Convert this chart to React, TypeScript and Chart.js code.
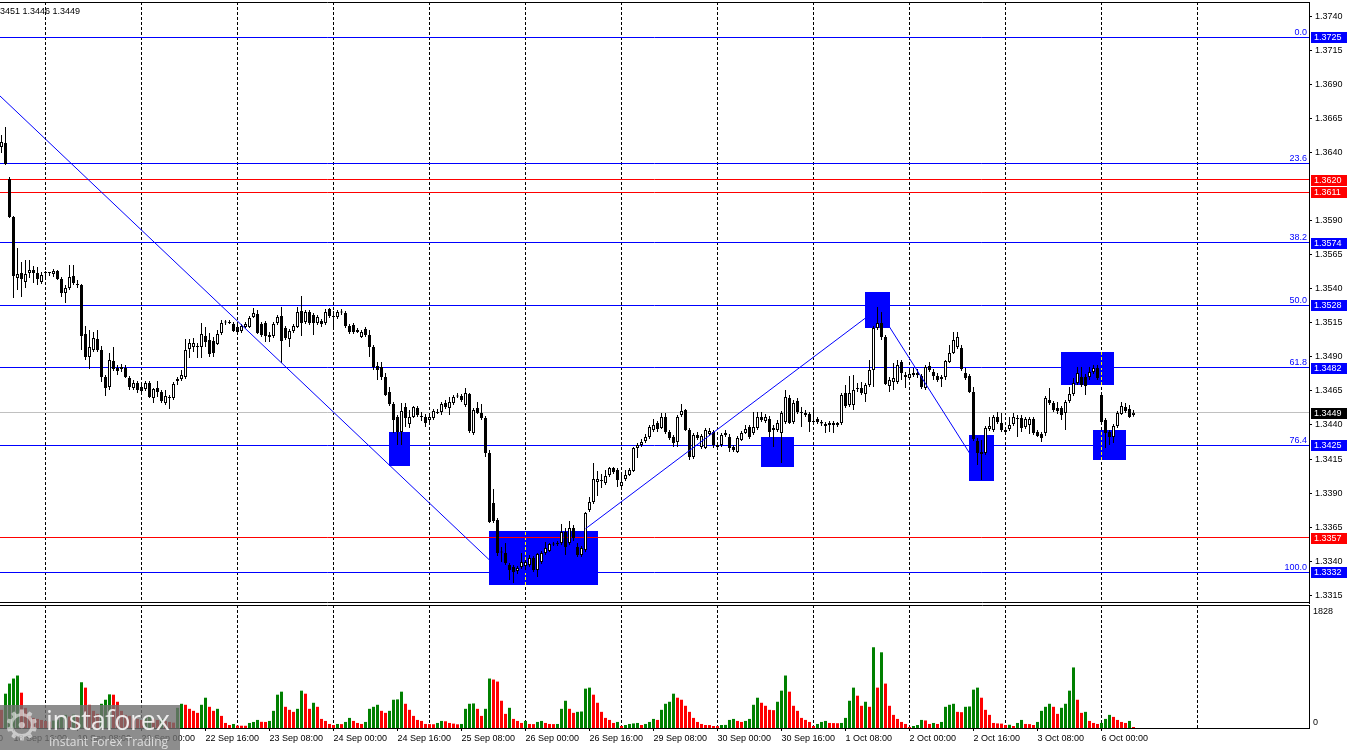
import React, { useEffect, useRef } from "react";
import { Chart, registerables } from "chart.js";
Chart.register(...registerables);

// ---------------- data (H1 bars, index 0 .. 283) ----------------
const open = [
1.36442,1.36472,1.36207,1.35928,1.35480,1.35517,1.35450,1.35517,1.35539,1.35517,
1.35450,1.35517,1.35517,1.35509,1.35531,1.35472,1.35370,1.35406,1.35495,1.35436,
1.35428,1.35068,1.34899,1.34951,1.35032,1.34951,1.34753,1.34679,1.34870,1.34819,
1.34811,1.34819,1.34745,1.34672,1.34708,1.34679,1.34664,1.34708,1.34598,1.34672,
1.34642,1.34562,1.34606,1.34598,1.34738,1.34738,1.34753,1.34958,1.34973,1.34980,
1.34973,1.35054,1.35024,1.35017,1.34995,1.35076,1.35153,1.35157,1.35142,1.35120,
1.35091,1.35120,1.35120,1.35193,1.35215,1.35142,1.35149,1.35061,1.35054,1.35149,
1.35201,1.35113,1.35032,1.35091,1.35120,1.35237,1.35157,1.35230,1.35208,1.35149,
1.35164,1.35149,1.35252,1.35197,1.35193,1.35226,1.35223,1.35127,1.35135,1.35098,
1.35046,1.35105,1.35061,1.34973,1.34833,1.34826,1.34753,1.34642,1.34554,1.34459,
1.34349,1.34532,1.34407,1.34459,1.34525,1.34462,1.34459,1.34437,1.34451,1.34495,
1.34495,1.34562,1.34525,1.34562,1.34613,1.34613,1.34547,1.34628,1.34341,1.34525,
1.34488,1.34451,1.34194,1.33827,1.33702,1.33467,1.33460,1.33372,1.33357,1.33327,
1.33357,1.33364,1.33372,1.33423,1.33335,1.33394,1.33460,1.33474,1.33526,1.33526,
1.33533,1.33614,1.33533,1.33643,1.33504,1.33445,1.33482,1.33776,1.33834,1.33981,
1.33996,1.33974,1.34033,1.34084,1.34069,1.33952,1.34003,1.34033,1.34062,1.34231,
1.34253,1.34282,1.34312,1.34363,1.34415,1.34378,1.34459,1.34349,1.34312,1.34275,
1.34473,1.34510,1.34363,1.34165,1.34327,1.34238,1.34231,1.34334,1.34349,1.34253,
1.34253,1.34327,1.34312,1.34238,1.34202,1.34290,1.34341,1.34385,1.34341,1.34378,
1.34459,1.34429,1.34444,1.34378,1.34363,1.34341,1.34422,1.34598,1.34422,1.34576,
1.34492,1.34488,1.34481,1.34426,1.34444,1.34422,1.34407,1.34400,1.34415,1.34415,
1.34415,1.34635,1.34547,1.34547,1.34664,1.34672,1.34628,1.34694,1.34804,1.35113,
1.35149,1.35046,1.34686,1.34716,1.34716,1.34863,1.34753,1.34745,1.34767,1.34782,
1.34760,1.34672,1.34833,1.34789,1.34760,1.34753,1.34753,1.34863,1.34929,1.34973,
1.34966,1.34782,1.34760,1.34642,1.34282,1.34202,1.34194,1.34371,1.34363,1.34459,
1.34415,1.34363,1.34371,1.34407,1.34451,1.34451,1.34385,1.34400,1.34444,1.34349,
1.34334,1.34341,1.34584,1.34562,1.34525,1.34525,1.34488,1.34576,1.34628,1.34708,
1.34753,1.34753,1.34753,1.34789,1.34819,1.34620,1.34437,1.34349,1.34312,1.34393,
1.34481,1.34532,1.34518,1.34473
];
const high = [
1.36530,1.36589,1.36222,1.35935,1.35700,1.35597,1.35612,1.35612,1.35568,1.35561,
1.35524,1.35531,1.35524,1.35546,1.35539,1.35487,1.35428,1.35575,1.35575,1.35465,
1.35436,1.35127,1.35098,1.35083,1.35098,1.34980,1.34767,1.34929,1.34973,1.34841,
1.34848,1.34841,1.34760,1.34731,1.34723,1.34701,1.34723,1.34723,1.34672,1.34723,
1.34657,1.34657,1.34620,1.34716,1.34753,1.34804,1.35032,1.35032,1.35039,1.35002,
1.35149,1.35120,1.35076,1.35046,1.35098,1.35171,1.35171,1.35171,1.35157,1.35135,
1.35142,1.35157,1.35201,1.35259,1.35245,1.35157,1.35164,1.35083,1.35157,1.35208,
1.35267,1.35127,1.35105,1.35142,1.35267,1.35348,1.35245,1.35245,1.35223,1.35208,
1.35179,1.35252,1.35259,1.35237,1.35245,1.35252,1.35237,1.35142,1.35149,1.35113,
1.35098,1.35120,1.35098,1.34988,1.34863,1.34863,1.34782,1.34679,1.34569,1.34473,
1.34562,1.34562,1.34510,1.34540,1.34540,1.34495,1.34481,1.34473,1.34518,1.34518,
1.34569,1.34584,1.34606,1.34620,1.34635,1.34628,1.34672,1.34635,1.34525,1.34569,
1.34554,1.34466,1.34216,1.33930,1.33717,1.33504,1.33533,1.33386,1.33372,1.33364,
1.33460,1.33408,1.33445,1.33438,1.33460,1.33474,1.33540,1.33533,1.33540,1.33548,
1.33673,1.33643,1.33695,1.33665,1.33533,1.33511,1.33761,1.33871,1.34121,1.34062,
1.34040,1.34069,1.34091,1.34091,1.34084,1.34055,1.34069,1.34084,1.34238,1.34268,
1.34297,1.34334,1.34400,1.34444,1.34429,1.34488,1.34488,1.34363,1.34327,1.34473,
1.34554,1.34518,1.34378,1.34341,1.34349,1.34334,1.34378,1.34378,1.34363,1.34268,
1.34341,1.34363,1.34334,1.34253,1.34319,1.34356,1.34400,1.34400,1.34495,1.34495,
1.34495,1.34481,1.34466,1.34400,1.34437,1.34503,1.34657,1.34620,1.34584,1.34598,
1.34532,1.34510,1.34495,1.34510,1.34459,1.34437,1.34422,1.34429,1.34429,1.34422,
1.34635,1.34694,1.34760,1.34767,1.34708,1.34716,1.34708,1.34877,1.35127,1.35267,
1.35230,1.35061,1.34753,1.34855,1.34877,1.34877,1.34789,1.34804,1.34819,1.34811,
1.34775,1.34841,1.34863,1.34811,1.34782,1.34767,1.34877,1.34988,1.35083,1.35083,
1.34988,1.34819,1.34775,1.34679,1.34305,1.34290,1.34393,1.34459,1.34473,1.34495,
1.34488,1.34385,1.34459,1.34488,1.34473,1.34473,1.34459,1.34459,1.34459,1.34363,
1.34349,1.34613,1.34672,1.34576,1.34569,1.34540,1.34584,1.34679,1.34745,1.34826,
1.34826,1.34775,1.34826,1.34841,1.34841,1.34635,1.34451,1.34363,1.34407,1.34503,
1.34569,1.34562,1.34547,1.34510
];
const low = [
1.36398,1.36310,1.35921,1.35333,1.35392,1.35340,1.35406,1.35480,1.35443,1.35428,
1.35436,1.35487,1.35495,1.35487,1.35465,1.35340,1.35296,1.35392,1.35428,1.35406,
1.34951,1.34877,1.34811,1.34936,1.34936,1.34716,1.34613,1.34657,1.34797,1.34767,
1.34789,1.34745,1.34657,1.34657,1.34635,1.34635,1.34650,1.34598,1.34562,1.34606,
1.34562,1.34547,1.34518,1.34584,1.34694,1.34723,1.34738,1.34892,1.34936,1.34892,
1.34892,1.34973,1.34899,1.34899,1.34988,1.35061,1.35135,1.35142,1.35083,1.35068,
1.35076,1.35113,1.35113,1.35186,1.35068,1.35046,1.35010,1.35010,1.35039,1.35135,
1.34855,1.35024,1.34973,1.35076,1.35113,1.35054,1.35142,1.35135,1.35061,1.35135,
1.35120,1.35135,1.35186,1.35113,1.35179,1.35208,1.35113,1.35068,1.35068,1.35076,
1.35039,1.35046,1.34899,1.34804,1.34731,1.34731,1.34613,1.34540,1.34341,1.34253,
1.34253,1.34385,1.34378,1.34451,1.34459,1.34429,1.34385,1.34422,1.34437,1.34481,
1.34473,1.34518,1.34473,1.34547,1.34598,1.34569,1.34532,1.34341,1.34327,1.34481,
1.34437,1.34165,1.33680,1.33680,1.33438,1.33394,1.33372,1.33261,1.33239,1.33305,
1.33342,1.33335,1.33357,1.33320,1.33283,1.33379,1.33445,1.33467,1.33511,1.33511,
1.33518,1.33445,1.33518,1.33548,1.33430,1.33430,1.33467,1.33761,1.33820,1.33878,
1.33937,1.33959,1.34018,1.34040,1.33945,1.33945,1.33989,1.34025,1.34055,1.34158,
1.34238,1.34268,1.34297,1.34349,1.34349,1.34371,1.34334,1.34290,1.34238,1.34238,
1.34459,1.34356,1.34143,1.34150,1.34290,1.34224,1.34224,1.34319,1.34231,1.34231,
1.34238,1.34312,1.34202,1.34202,1.34194,1.34282,1.34334,1.34297,1.34327,1.34363,
1.34422,1.34415,1.34312,1.34238,1.34349,1.34121,1.34407,1.34407,1.34407,1.34481,
1.34385,1.34459,1.34349,1.34407,1.34407,1.34393,1.34341,1.34349,1.34341,1.34385,
1.34400,1.34525,1.34532,1.34510,1.34642,1.34620,1.34569,1.34679,1.34679,1.35098,
1.35024,1.34694,1.34642,1.34657,1.34701,1.34731,1.34672,1.34731,1.34753,1.34745,
1.34664,1.34657,1.34789,1.34731,1.34716,1.34679,1.34731,1.34855,1.34922,1.34958,
1.34797,1.34731,1.34635,1.34282,1.34106,1.33996,1.34180,1.34356,1.34349,1.34407,
1.34349,1.34334,1.34356,1.34393,1.34312,1.34349,1.34371,1.34334,1.34327,1.34312,
1.34275,1.34319,1.34547,1.34495,1.34481,1.34437,1.34363,1.34562,1.34613,1.34694,
1.34679,1.34620,1.34731,1.34775,1.34731,1.34407,1.34231,1.34253,1.34268,1.34378,
1.34473,1.34488,1.34451,1.34460
];
const close = [
1.36479,1.36317,1.35928,1.35495,1.35509,1.35472,1.35509,1.35539,1.35517,1.35472,
1.35502,1.35517,1.35520,1.35531,1.35472,1.35370,1.35406,1.35487,1.35443,1.35428,
1.35054,1.34899,1.34973,1.35039,1.34951,1.34753,1.34672,1.34877,1.34811,1.34797,
1.34826,1.34753,1.34679,1.34708,1.34657,1.34650,1.34708,1.34606,1.34664,1.34642,
1.34576,1.34613,1.34598,1.34701,1.34723,1.34767,1.34951,1.35002,1.35002,1.34973,
1.35068,1.35010,1.34922,1.34929,1.35068,1.35149,1.35157,1.35149,1.35091,1.35083,
1.35127,1.35142,1.35186,1.35223,1.35076,1.35061,1.35054,1.35046,1.35142,1.35193,
1.35017,1.35039,1.35091,1.35127,1.35230,1.35149,1.35230,1.35149,1.35149,1.35193,
1.35142,1.35230,1.35201,1.35193,1.35230,1.35230,1.35127,1.35083,1.35083,1.35083,
1.35083,1.35061,1.34973,1.34826,1.34804,1.34753,1.34620,1.34554,1.34437,1.34349,
1.34503,1.34451,1.34459,1.34532,1.34473,1.34459,1.34415,1.34459,1.34503,1.34488,
1.34554,1.34532,1.34569,1.34606,1.34609,1.34584,1.34635,1.34356,1.34510,1.34488,
1.34451,1.34194,1.33687,1.33695,1.33460,1.33463,1.33386,1.33335,1.33320,1.33350,
1.33394,1.33394,1.33423,1.33335,1.33452,1.33460,1.33496,1.33526,1.33522,1.33527,
1.33614,1.33504,1.33643,1.33570,1.33445,1.33496,1.33753,1.33834,1.34003,1.34003,
1.33989,1.34025,1.34084,1.34055,1.33996,1.33981,1.34033,1.34069,1.34231,1.34253,
1.34275,1.34312,1.34385,1.34400,1.34371,1.34459,1.34349,1.34305,1.34268,1.34459,
1.34503,1.34363,1.34165,1.34327,1.34305,1.34319,1.34363,1.34356,1.34253,1.34238,
1.34327,1.34341,1.34231,1.34216,1.34305,1.34341,1.34371,1.34312,1.34385,1.34459,
1.34437,1.34459,1.34349,1.34363,1.34415,1.34488,1.34606,1.34415,1.34562,1.34495,
1.34488,1.34473,1.34422,1.34422,1.34422,1.34411,1.34393,1.34415,1.34400,1.34400,
1.34620,1.34540,1.34635,1.34657,1.34672,1.34635,1.34694,1.34804,1.35113,1.35149,
1.35046,1.34701,1.34731,1.34745,1.34841,1.34782,1.34767,1.34775,1.34782,1.34767,
1.34679,1.34826,1.34804,1.34760,1.34731,1.34738,1.34870,1.34929,1.35024,1.35046,
1.34811,1.34745,1.34642,1.34297,1.34194,1.34187,1.34378,1.34393,1.34459,1.34422,
1.34363,1.34349,1.34400,1.34459,1.34444,1.34378,1.34444,1.34444,1.34341,1.34319,
1.34305,1.34598,1.34562,1.34510,1.34503,1.34473,1.34569,1.34628,1.34708,1.34782,
1.34694,1.34686,1.34789,1.34819,1.34745,1.34422,1.34341,1.34312,1.34393,1.34488,
1.34540,1.34503,1.34459,1.34490
];
const volume = [
270,510,660,735,780,525,300,180,150,135,
120,105,95,110,125,165,195,170,200,185,
680,600,345,255,210,360,420,500,495,390,
255,195,180,150,135,120,150,180,135,120,
135,105,90,80,300,360,345,285,255,225,
345,450,315,255,285,180,75,45,60,35,
34,33,75,90,120,92,90,105,255,495,
540,315,270,240,285,555,510,285,375,315,
135,105,60,45,60,58,90,150,105,75,
60,90,285,315,345,255,225,255,420,425,
540,360,270,180,120,105,60,58,56,75,
105,100,75,65,55,60,285,360,365,285,
180,285,735,720,690,405,210,300,135,105,
75,105,60,58,90,105,75,60,58,60,
285,405,285,225,240,245,585,600,495,375,
240,150,120,75,90,30,45,60,68,75,
45,60,90,135,120,270,360,390,510,450,
420,330,240,150,90,60,45,44,30,28,
45,46,120,135,105,90,105,135,345,450,
375,330,270,265,390,555,780,540,330,255,
150,120,90,30,60,90,105,75,73,71,
75,150,405,600,480,330,390,315,1200,600,
1125,660,330,195,135,90,60,15,30,45,
120,112,60,75,60,90,315,345,360,240,
235,315,320,570,600,450,270,195,75,68,
65,45,48,30,75,120,60,58,45,90,
255,315,360,315,210,300,360,555,900,420,
225,240,105,75,60,75,135,195,165,120,
90,75,105,15
];

// time axis
const xTickIdx = [-13, 3, 19, 35, 51, 67, 83, 99, 115, 131, 147, 163, 179, 195, 211, 227, 243, 259, 275];
const xTickText = ["18 Sep 00:00", "18 Sep 16:00", "19 Sep 08:00", "22 Sep 00:00", "22 Sep 16:00", "23 Sep 08:00",
  "24 Sep 00:00", "24 Sep 16:00", "25 Sep 08:00", "26 Sep 00:00", "26 Sep 16:00", "29 Sep 08:00", "30 Sep 00:00",
  "30 Sep 16:00", "1 Oct 08:00", "2 Oct 00:00", "2 Oct 16:00", "3 Oct 08:00", "6 Oct 00:00"];
const dayGridIdx = [11, 35, 59, 83, 107, 131, 155, 179, 203, 227, 251, 275, 299];

// price axis
const priceTicks = [1.3315, 1.3340, 1.3365, 1.3390, 1.3415, 1.3440, 1.3465, 1.3490, 1.3515, 1.3540, 1.3565,
  1.3590, 1.3640, 1.3665, 1.3690, 1.3715, 1.3740];
const volumeMaxLabel = 1828;

// Fibonacci levels
const fibLevels = [0.0, 23.6, 38.2, 50.0, 61.8, 76.4, 100.0];
const fibPrices = [1.3725, 1.3632, 1.3574, 1.3528, 1.3482, 1.3425, 1.3332];
const fibHasTag = [true, false, true, true, true, true, true];
// red support / resistance levels
const redLevels = [1.3620, 1.3611, 1.3357];

// blue zones: [from bar, to bar, top price, bottom price]
const boxFrom = [97, 122, 190, 216, 242, 265, 273];
const boxTo = [102, 149, 198, 222, 248, 278, 281];
const boxTop = [1.34349, 1.33621, 1.34312, 1.35377, 1.34327, 1.34936, 1.34363];
const boxBottom = [1.34099, 1.33225, 1.34091, 1.35113, 1.33989, 1.34694, 1.34143];

// trend lines
const trend1X = [-0.375, 122];
const trend1Y = [1.36817, 1.33408];
const trend2X = [146, 216];
const trend2Y = [1.33638, 1.35186];
const trend3X = [222, 242];
const trend3Y = [1.35120, 1.34194];

// ---------------- styling ----------------
const FONT = '"Liberation Sans", Arial, sans-serif';
const BLUE = "#0000ff";
const RED = "#ff0000";
const GREEN = "#008000";
const X_MIN = -0.375;
const X_MAX = 326.875;
const P_MIN = 1.330924;
const P_MAX = 1.375073;

const whiteBg = {
  id: "whiteBg",
  beforeDraw(chart: any) {
    const { ctx, width, height } = chart;
    ctx.save();
    ctx.globalCompositeOperation = "source-over";
    ctx.fillStyle = "#ffffff";
    ctx.fillRect(0, 0, width, height);
    ctx.restore();
  },
};

const forceX = (s: any) => {
  s.min = X_MIN;
  s.max = X_MAX;
};

const mainDecor = {
  id: "mainDecor",
  beforeDatasetsDraw(chart: any) {
    const { ctx, chartArea: a } = chart;
    const xs = chart.scales.x;
    const ys = chart.scales.y;
    ctx.save();
    ctx.beginPath();
    ctx.rect(a.left, a.top, a.right - a.left, a.bottom - a.top);
    ctx.clip();
    // zones
    ctx.fillStyle = BLUE;
    for (let k = 0; k < boxFrom.length; k++) {
      const x0 = Math.floor(xs.getPixelForValue(boxFrom[k]));
      const x1 = Math.floor(xs.getPixelForValue(boxTo[k])) + 1;
      const y0 = Math.round(ys.getPixelForValue(boxTop[k]));
      const y1 = Math.round(ys.getPixelForValue(boxBottom[k]));
      ctx.fillRect(x0, y0, x1 - x0, y1 - y0);
    }
    // dashed day separators (inverting, like the terminal grid)
    ctx.save();
    ctx.globalCompositeOperation = "difference";
    ctx.strokeStyle = "#ffffff";
    ctx.lineWidth = 1;
    ctx.setLineDash([3, 2]);
    for (const d of dayGridIdx) {
      const px = Math.floor(xs.getPixelForValue(d)) + 0.5;
      ctx.beginPath();
      ctx.moveTo(px, a.top);
      ctx.lineTo(px, a.bottom);
      ctx.stroke();
    }
    ctx.restore();
    // horizontal levels
    const hline = (p: number, color: string) => {
      const py = Math.floor(ys.getPixelForValue(p)) + 0.5;
      ctx.strokeStyle = color;
      ctx.lineWidth = 1;
      ctx.beginPath();
      ctx.moveTo(a.left, py);
      ctx.lineTo(a.right, py);
      ctx.stroke();
    };
    hline(close[close.length - 1], "#c0c0c0");
    fibPrices.forEach((p) => hline(p, BLUE));
    redLevels.forEach((p) => hline(p, RED));
    ctx.restore();
  },
  afterDraw(chart: any) {
    const { ctx, chartArea: a } = chart;
    const ys = chart.scales.y;
    ctx.save();
    // frame
    ctx.strokeStyle = "#000";
    ctx.lineWidth = 1;
    ctx.beginPath();
    ctx.moveTo(0, a.top + 0.5);
    ctx.lineTo(a.right + 1, a.top + 0.5);
    ctx.moveTo(0, a.bottom - 0.5);
    ctx.lineTo(a.right + 1, a.bottom - 0.5);
    ctx.stroke();
    // fib level captions
    ctx.font = `9px ${FONT}`;
    ctx.fillStyle = BLUE;
    ctx.textAlign = "right";
    ctx.textBaseline = "alphabetic";
    fibLevels.forEach((lv, k) => {
      const py = Math.floor(ys.getPixelForValue(fibPrices[k]));
      ctx.fillText(lv.toFixed(1), a.right - 2, py - 2);
    });
    // price tags
    const tag = (p: number, bg: string) => {
      const py = Math.round(ys.getPixelForValue(p));
      const top = py - 5;
      ctx.fillStyle = bg;
      ctx.fillRect(a.right + 2, top, 36, 11);
      ctx.fillStyle = "#ffffff";
      ctx.textAlign = "left";
      ctx.textBaseline = "middle";
      ctx.fillText(p.toFixed(4), a.right + 5, top + 6);
    };
    fibPrices.forEach((p, k) => { if (fibHasTag[k]) tag(p, BLUE); });
    redLevels.forEach((p) => tag(p, RED));
    tag(close[close.length - 1], "#000000");
    // OHLC caption (partly cut at the left edge)
    const n = close.length - 1;
    ctx.fillStyle = "#000";
    ctx.textAlign = "left";
    ctx.textBaseline = "alphabetic";
    ctx.fillText(`${high[n].toFixed(4)} ${low[n].toFixed(4)} ${close[n].toFixed(4)}`, -7.5, 14);
    ctx.restore();
  },
};

const volDecor = {
  id: "volDecor",
  beforeDatasetsDraw(chart: any) {
    const { ctx, chartArea: a } = chart;
    const xs = chart.scales.x;
    ctx.save();
    ctx.strokeStyle = "#000";
    ctx.lineWidth = 1;
    ctx.setLineDash([3, 2]);
    for (const d of dayGridIdx) {
      const px = Math.floor(xs.getPixelForValue(d)) + 0.5;
      ctx.beginPath();
      ctx.moveTo(px, a.top);
      ctx.lineTo(px, a.bottom);
      ctx.stroke();
    }
    ctx.restore();
  },
  afterDraw(chart: any) {
    const { ctx, chartArea: a } = chart;
    ctx.save();
    ctx.strokeStyle = "#000";
    ctx.lineWidth = 1;
    ctx.beginPath();
    ctx.moveTo(0, a.top + 0.5);
    ctx.lineTo(a.right + 1, a.top + 0.5);
    ctx.stroke();
    ctx.font = `9px ${FONT}`;
    ctx.fillStyle = "#000";
    ctx.textAlign = "left";
    ctx.textBaseline = "middle";
    ctx.fillText(String(volumeMaxLabel), a.right + 4, a.top + 7);
    ctx.fillText("0", a.right + 4, a.bottom - 5);
    ctx.restore();
  },
};

export default function App() {
  const mainRef = useRef<HTMLCanvasElement>(null);
  const volRef = useRef<HTMLCanvasElement>(null);

  useEffect(() => {
    document.body.style.margin = "0";
    const idx = close.map((_, i) => i);
    const wickData = idx.map((i) => ({ x: i, y: [low[i], high[i]] }));
    const bodyData = idx.map((i) => ({ x: i, y: [open[i], close[i]] }));
    const bodyColors = idx.map((i) => (close[i] >= open[i] ? "#ffffff" : "#000000"));
    const line = (xs: number[], ys: number[]) => ({
      type: "line" as const,
      data: xs.map((x, k) => ({ x, y: ys[k] })),
      borderColor: BLUE,
      borderWidth: 1,
      pointRadius: 0,
      fill: false,
      tension: 0,
      order: -1,
    });

    const main = new Chart(mainRef.current!, {
      type: "bar",
      data: {
        datasets: [
          line(trend1X, trend1Y),
          line(trend2X, trend2Y),
          line(trend3X, trend3Y),
          {
            label: "body",
            data: bodyData,
            backgroundColor: bodyColors,
            borderColor: "#000000",
            borderWidth: 1,
            borderSkipped: false,
            barThickness: 3,
            grouped: false,
            minBarLength: 1,
            inflateAmount: 0,
            order: 1,
          },
          {
            label: "wick",
            data: wickData,
            backgroundColor: "#000000",
            borderWidth: 0,
            barThickness: 1,
            grouped: false,
            inflateAmount: 0,
            order: 2,
          },
        ] as any,
      },
      options: {
        animation: false,
        responsive: false,
        devicePixelRatio: 1,
        events: [],
        layout: { padding: { top: 2, bottom: 1, left: 0, right: 0 } },
        plugins: { legend: { display: false }, tooltip: { enabled: false } },
        scales: {
          x: {
            type: "linear",
            min: X_MIN,
            max: X_MAX,
            offset: false,
            bounds: "data",
            grace: 0,
            display: false,
            afterDataLimits: forceX,
            afterBuildTicks: forceX,
            grid: { offset: false },
          },
          y: {
            position: "right",
            min: P_MIN,
            max: P_MAX,
            bounds: "data",
            afterBuildTicks: (s: any) => { s.ticks = priceTicks.map((v) => ({ value: v })); s.min = P_MIN; s.max = P_MAX; },
            afterFit: (s: any) => { s.width = 41; s.paddingTop = 0; s.paddingBottom = 0; },
            ticks: {
              autoSkip: false,
              padding: 3,
              color: "#000",
              font: { family: FONT, size: 9 },
              callback: (v: any) => Number(v).toFixed(4),
            },
            grid: { drawOnChartArea: false, tickLength: 3, color: "#000" },
            border: { color: "#000", width: 1 },
          },
        },
      } as any,
      plugins: [whiteBg, mainDecor],
    });

    const volColors = volume.map((v, i) => (i > 0 && v > volume[i - 1] ? GREEN : RED));
    const vol = new Chart(volRef.current!, {
      type: "bar",
      data: {
        datasets: [
          {
            data: idx.map((i) => ({ x: i, y: volume[i] })),
            backgroundColor: volColors,
            borderWidth: 0,
            barThickness: 3,
            inflateAmount: 0,
          },
        ] as any,
      },
      options: {
        animation: false,
        responsive: false,
        devicePixelRatio: 1,
        events: [],
        layout: { padding: { top: 1, bottom: 0, left: 0, right: 0 } },
        plugins: { legend: { display: false }, tooltip: { enabled: false } },
        scales: {
          x: {
            type: "linear",
            min: X_MIN,
            max: X_MAX,
            offset: false,
            bounds: "data",
            grace: 0,
            afterDataLimits: forceX,
            afterBuildTicks: (s: any) => { s.ticks = xTickIdx.map((v) => ({ value: v })); forceX(s); },
            afterFit: (s: any) => { s.height = 22; s.paddingLeft = 0; s.paddingRight = 0; },
            ticks: {
              autoSkip: false,
              maxRotation: 0,
              minRotation: 0,
              align: "start",
              padding: 2,
              color: "#000",
              font: { family: FONT, size: 9 },
              callback: (v: any) => {
                const k = xTickIdx.indexOf(Number(v));
                return k >= 0 ? xTickText[k] : "";
              },
            },
            grid: { drawOnChartArea: false, tickLength: 3, color: "#000", offset: false },
            border: { color: "#000", width: 1 },
          },
          y: {
            position: "right",
            min: 0,
            max: volumeMaxLabel,
            afterFit: (s: any) => { s.width = 41; s.paddingTop = 0; s.paddingBottom = 0; },
            ticks: { display: false },
            grid: { display: false },
            border: { color: "#000", width: 1 },
          },
        },
      } as any,
      plugins: [whiteBg, volDecor],
    });

    return () => {
      main.destroy();
      vol.destroy();
    };
  }, []);

  return (
    <div style={{ position: "relative", width: 1350, height: 750, background: "#ffffff", overflow: "hidden" }}>
      <canvas ref={mainRef} width={1350} height={604} style={{ position: "absolute", left: 0, top: 0, display: "block" }} />
      <canvas ref={volRef} width={1350} height={146} style={{ position: "absolute", left: 0, top: 604, display: "block" }} />
      <div
        style={{
          position: "absolute", left: 0, top: 705, width: 180, height: 45,
          background: "rgba(112,112,112,0.8)", overflow: "hidden", pointerEvents: "none",
        }}
      >
        <span style={{ position: "absolute", left: 3, top: -4, fontSize: 42, lineHeight: "50px", color: "rgba(255,255,255,0.55)", fontFamily: '"DejaVu Sans"' }}>⚙</span>
        <span style={{ position: "absolute", left: 46, top: 0, fontSize: 27, lineHeight: "30px", color: "rgba(255,255,255,0.85)", fontFamily: '"Open Sans", sans-serif', letterSpacing: -0.3 }}>instaforex</span>
        <span style={{ position: "absolute", left: 49, top: 30, fontSize: 12, lineHeight: "14px", color: "rgba(255,255,255,0.7)", fontFamily: '"Open Sans", sans-serif' }}>Instant Forex Trading</span>
      </div>
    </div>
  );
}
